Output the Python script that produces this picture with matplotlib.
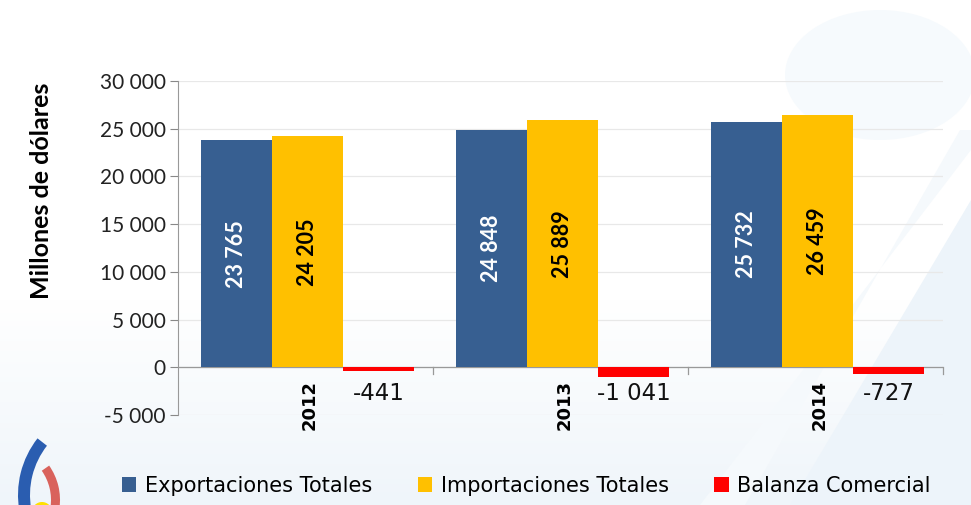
import numpy as np
import matplotlib.pyplot as plt
from matplotlib.colors import LinearSegmentedColormap
from matplotlib.patches import Ellipse, Polygon, Wedge, Circle
from matplotlib.ticker import FuncFormatter

years = ["2012", "2013", "2014"]
exportaciones = [23765, 24848, 25732]
importaciones = [24205, 25889, 26459]
balanza = [-441, -1041, -727]
series_names = ["Exportaciones Totales", "Importaciones Totales", "Balanza Comercial"]
series_colors = ["#375F91", "#FFC000", "#FF0000"]
y_ticks = [-5000, 0, 5000, 10000, 15000, 20000, 25000, 30000]


def fmt_thousands(v):
    s = f"{abs(int(round(v))):,}".replace(",", " ")
    return ("-" if v < 0 else "") + s


fig = plt.figure(figsize=(9.71, 5.05), dpi=100)
fig.patch.set_facecolor("white")

# light decorative background (pixel coordinates, y downwards)
bg = fig.add_axes([0, 0, 1, 1], zorder=-10)
bg.set_xlim(0, 971)
bg.set_ylim(505, 0)
bg.axis("off")
grad = np.linspace(0, 1, 256).reshape(-1, 1)
bg.imshow(grad, extent=[0, 971, 505, 300],
          cmap=LinearSegmentedColormap.from_list("bgfade", ["#FFFFFF", "#EFF5FA"]),
          aspect="auto", zorder=0)
bg.add_patch(Ellipse((880, 75), 190, 130, color="#F6FAFD", zorder=1, lw=0))
bg.add_patch(Polygon([[790, 505], [971, 200], [971, 505]], color="#EDF4FA", zorder=1, lw=0))
bg.add_patch(Polygon([[700, 505], [745, 505], [960, 130], [971, 130], [971, 150]],
                     color="#F5F9FC", zorder=1, lw=0))
# small logo in the lower-left corner
bg.add_patch(Wedge((110, 495), 92, 170, 218, width=12, color="#2A5DB0", zorder=2, lw=0))
bg.add_patch(Wedge((0, 500), 60, -35, 8, width=9, color="#D9625C", zorder=2, lw=0))
bg.add_patch(Circle((42, 512), 10, color="#FFE000", zorder=2, lw=0))

ax = fig.add_axes([178 / 971, 1 - 415 / 505, (943 - 178) / 971, (415 - 81) / 505])
ax.set_facecolor("none")

x = np.arange(len(years))
w = 0.278
shift = 0.008
b1 = ax.bar(x - w + shift, exportaciones, w, color=series_colors[0], label=series_names[0], zorder=3)
b2 = ax.bar(x + shift, importaciones, w, color=series_colors[1], label=series_names[1], zorder=3)
b3 = ax.bar(x + w + shift, balanza, w, color=series_colors[2], label=series_names[2], zorder=3)

for rect, v in zip(b1, exportaciones):
    ax.text(rect.get_x() + rect.get_width() / 2, v / 2, fmt_thousands(v), rotation=90,
            ha="center", va="center", color="white", fontsize=15.5, fontweight="bold",
            family="Lato", zorder=4)
for rect, v in zip(b2, importaciones):
    ax.text(rect.get_x() + rect.get_width() / 2, v / 2, fmt_thousands(v), rotation=90,
            ha="center", va="center", color="black", fontsize=15.5, fontweight="bold",
            family="Lato", zorder=4)
for rect, v in zip(b3, balanza):
    ax.text(rect.get_x() + rect.get_width() / 2, -2700, fmt_thousands(v),
            ha="center", va="center", color="#111111", fontsize=16.5, family="DejaVu Sans", zorder=4)

# year labels below the zero line
for xi, yr in zip(x, years):
    ax.text(xi + shift + 0.01, -1350, yr, rotation=90, ha="center", va="top",
            fontsize=13, fontweight="bold", family="DejaVu Sans", zorder=4)

ax.set_xlim(-0.5, 2.5)
ax.set_ylim(-5000, 30000)
ax.set_yticks(y_ticks)
ax.yaxis.set_major_formatter(FuncFormatter(lambda v, p: fmt_thousands(v)))
ax.tick_params(axis="y", labelsize=15, length=6, color="#888888", pad=3, labelcolor="#222222")
for lbl in ax.get_yticklabels():
    lbl.set_family("Lato")
ax.set_xticks([])
ax.grid(axis="y", color="#E8E8E8", lw=0.9, zorder=0)
for s in ["top", "right", "bottom"]:
    ax.spines[s].set_visible(False)
ax.spines["left"].set_color("#999999")

# category axis drawn along zero
ax.axhline(0, color="#999999", lw=0.9, zorder=2)
for bx in [0.5, 1.5, 2.5]:
    ax.plot([bx, bx], [0, -750], color="#999999", lw=0.9, zorder=2, clip_on=False)

ax.set_ylabel("Millones de dólares", fontsize=18, family="Lato", fontweight="bold")
ax.yaxis.set_label_coords(-125 / 765, (415 - 191) / 334)

fig.legend(handles=[b1, b2, b3], labels=series_names, loc="center",
           bbox_to_anchor=(0.542, 1 - 486 / 505), ncol=3, frameon=False,
           handlelength=0.7, handleheight=0.7, handletextpad=0.4,
           columnspacing=2.2, prop={"family": "DejaVu Sans", "size": 15})

fig.savefig("out.png", dpi=100)
